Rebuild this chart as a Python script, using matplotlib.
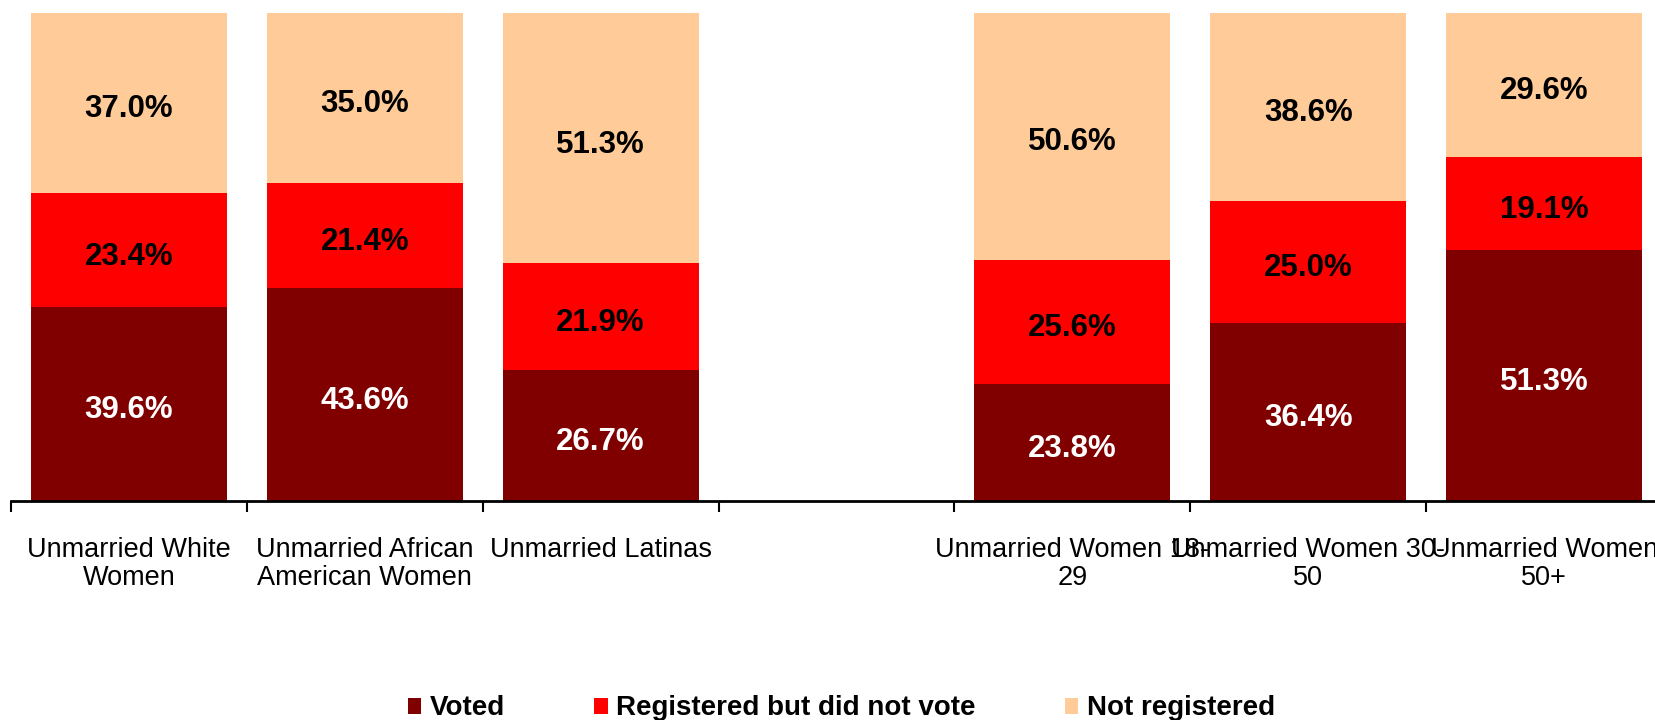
import matplotlib.pyplot as plt
import numpy as np
from matplotlib.patches import Patch

plt.rcParams['font.family'] = ['Liberation Sans', 'DejaVu Sans']

categories = [
    "Unmarried White\nWomen",
    "Unmarried African\nAmerican Women",
    "Unmarried Latinas",
    "Unmarried Women 18-\n29",
    "Unmarried Women 30-\n50",
    "Unmarried Women\n50+",
]
voted = [39.6, 43.6, 26.7, 23.8, 36.4, 51.3]
registered_no_vote = [23.4, 21.4, 21.9, 25.6, 25.0, 19.1]
not_registered = [37.0, 35.0, 51.3, 50.6, 38.6, 29.6]

series_names = ["Voted", "Registered but did not vote", "Not registered"]
colors = ["#800000", "#FF0000", "#FFCC99"]
label_colors = ["white", "black", "black"]

# race groups first, then a blank slot, then age groups
n_first_group = 3
slots = np.array([i if i < n_first_group else i + 1 for i in range(len(categories))])
n_slots = len(categories) + 1

fig = plt.figure(figsize=(16.56, 7.2), dpi=100)
ax = fig.add_axes([11 / 1656, 219.4 / 720, 1651 / 1656, 487.9 / 720])

bottom = np.zeros(len(categories))
for vals, color, tcolor in zip([voted, registered_no_vote, not_registered], colors, label_colors):
    vals = np.array(vals)
    ax.bar(slots, vals, width=0.83, bottom=bottom, color=color, edgecolor="none")
    for x, b, v in zip(slots, bottom, vals):
        ax.text(x, b + v / 2 - 1.3, f"{v:.1f}%", ha="center", va="center",
                fontsize=22.5, fontweight="bold", color=tcolor)
    bottom += vals

ax.set_xlim(-0.5, n_slots - 0.5)
ax.set_ylim(0, 100)

for side in ["top", "right", "left"]:
    ax.spines[side].set_visible(False)
ax.spines["bottom"].set_linewidth(2)
ax.set_yticks([])

labels = [""] * n_slots
for s, c in zip(slots, categories):
    labels[s] = c
ax.set_xticks(np.arange(n_slots))
ax.set_xticklabels(labels, fontsize=19.5, linespacing=1.1)
ax.tick_params(axis="x", which="major", length=0, pad=26)
ax.set_xticks(np.arange(n_slots + 1) - 0.5, minor=True)
ax.tick_params(axis="x", which="minor", length=8, width=1.5, direction="out")

handles = [Patch(facecolor=c, edgecolor="none") for c in colors]
fig.legend(handles, series_names, loc="center", bbox_to_anchor=(0.508, 0.016),
           ncol=3, frameon=False, handlelength=0.5, handleheight=0.5,
           handletextpad=0.3, columnspacing=3.2,
           prop={"size": 20, "weight": "bold"})

fig.savefig("out.png", dpi=100)
